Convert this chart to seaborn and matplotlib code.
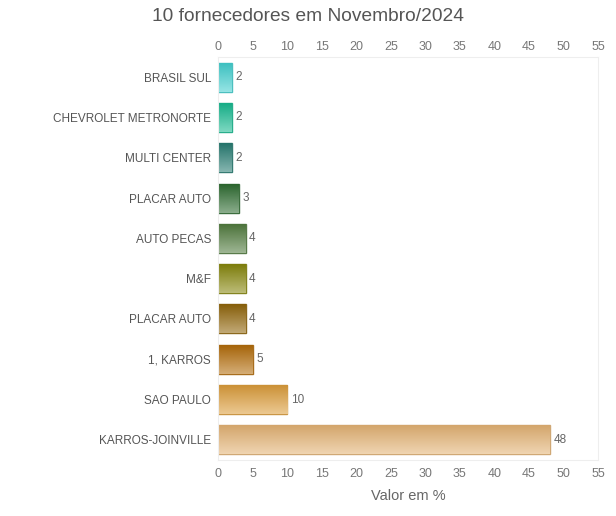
import numpy as np
import pandas as pd
import seaborn as sns
import matplotlib.pyplot as plt
from matplotlib.colors import to_rgb

fornecedores = ["BRASIL SUL", "CHEVROLET METRONORTE", "MULTI CENTER", "PLACAR AUTO",
                "AUTO PECAS", "M&F", "PLACAR AUTO", "1, KARROS", "SAO PAULO",
                "KARROS-JOINVILLE"]
valores = [2, 2, 2, 3, 4, 4, 4, 5, 10, 48]
cores = ["#3fcfcf", "#13b98f", "#237a70", "#2b6a2e", "#4f7a3c", "#858508",
         "#8f6306", "#b26a06", "#dc9c38", "#e4b272"]
ticks = list(range(0, 60, 5))

# chave unica por linha (ha dois "PLACAR AUTO")
chaves = [f"{i}_{n}" for i, n in enumerate(fornecedores)]
df = pd.DataFrame({"chave": chaves, "valor": valores})

sns.set_style("white")
plt.rcParams['font.family'] = ['Liberation Sans', 'DejaVu Sans']

fig = plt.figure(figsize=(6.16, 5.16), dpi=100)
ax = fig.add_axes([0.354, 0.1085, 0.617, 0.781])
sns.barplot(data=df, x="valor", y="chave", hue="chave", palette=cores,
            legend=False, width=0.72, ax=ax, orient="h")

# gradiente em cada barra (escuro em cima, claro embaixo)
for i, (patch, c) in enumerate(zip(ax.patches, cores)):
    x0, y0 = patch.get_x(), patch.get_y()
    w, h = patch.get_width(), patch.get_height()
    base = np.array(to_rgb(c))
    t = np.linspace(0, 1, 64)[:, None]
    light = base + (1 - base) * 0.45
    dark = base * 0.92
    grad = dark + (light - dark) * t
    im = ax.imshow(grad[:, None, :], extent=[x0, x0 + w, y0 + h, y0], aspect="auto",
                   origin="upper", zorder=patch.get_zorder() + 0.1)
    im.set_clip_path(patch)
    patch.set_edgecolor(tuple(base * 0.8 + 0.1))
    patch.set_linewidth(1.0)
    ax.text(x0 + w + 0.5, y0 + h / 2, str(valores[i]),
            va="center", ha="left", fontsize=8.5, color="#666666")

ax.set_xlim(0, 55)
ax.set_ylim(len(fornecedores) - 0.5, -0.5)
ax.set_xticks(ticks)
ax.set_yticks(range(len(fornecedores)))
ax.set_yticklabels(fornecedores)
ax.tick_params(axis="x", labelsize=9, colors="#777777", length=0, pad=6)
ax.tick_params(axis="y", labelsize=8.5, colors="#555555", length=0, pad=5)
sec = ax.secondary_xaxis("top")
sec.set_xticks(ticks)
sec.tick_params(labelsize=9, colors="#777777", length=0, pad=3)
sec.spines["top"].set_visible(False)
ax.set_ylabel("")
ax.set_xlabel("Valor em %", fontsize=10.5, color="#666666", labelpad=6)
for s in ax.spines.values():
    s.set_color("#eeeeee")
    s.set_linewidth(0.8)

fig.suptitle("10 fornecedores em Novembro/2024", fontsize=13.8, color="#555555",
             y=0.984)

fig.savefig("out.png", dpi=100)
